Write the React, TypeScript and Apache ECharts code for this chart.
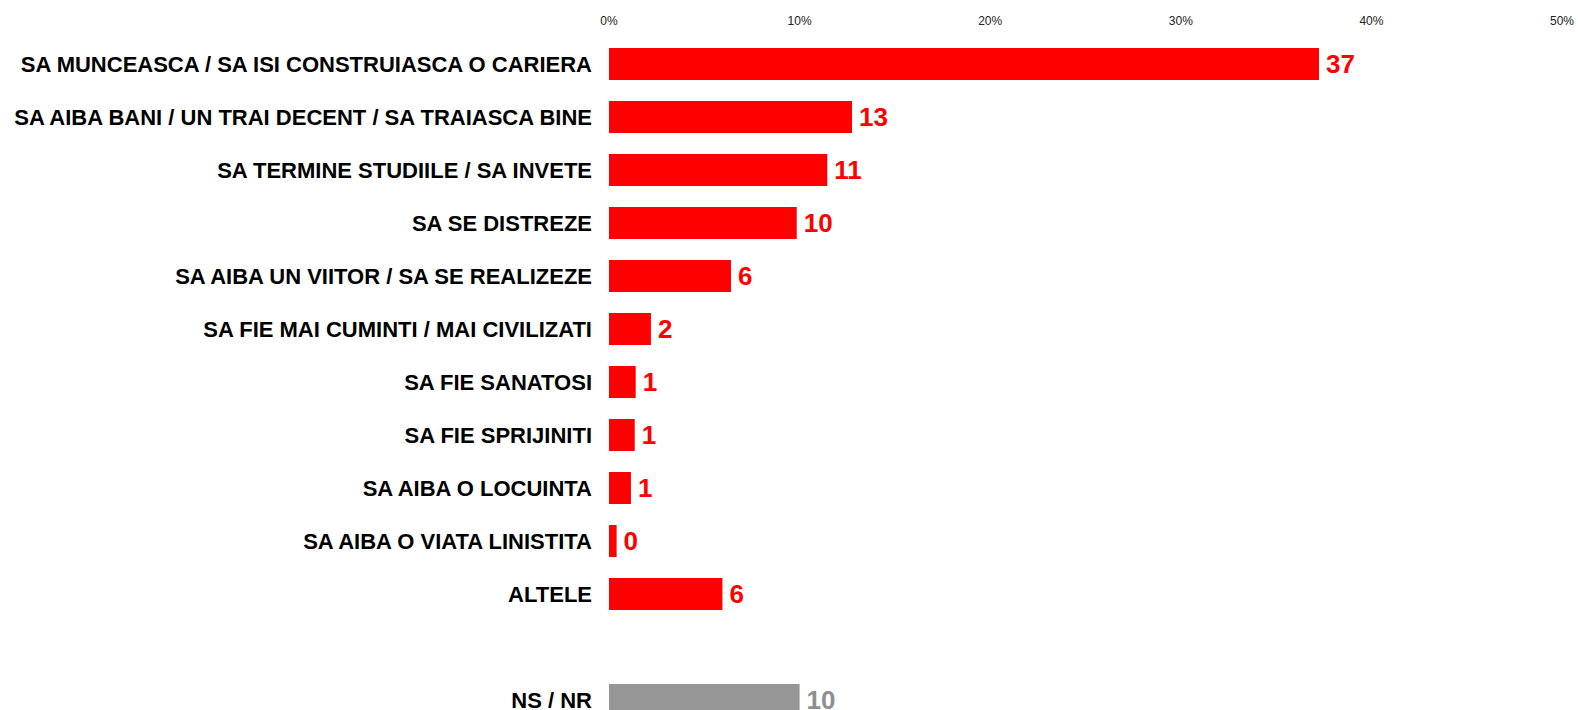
import React, { useEffect, useRef } from "react";
import * as echarts from "echarts";

const categories = [
  "SA MUNCEASCA / SA ISI CONSTRUIASCA O CARIERA",
  "SA AIBA BANI / UN TRAI DECENT / SA TRAIASCA BINE",
  "SA TERMINE STUDIILE / SA INVETE",
  "SA SE DISTREZE",
  "SA AIBA UN VIITOR / SA SE REALIZEZE",
  "SA FIE MAI CUMINTI / MAI CIVILIZATI",
  "SA FIE SANATOSI",
  "SA FIE SPRIJINITI",
  "SA AIBA O LOCUINTA",
  "SA AIBA O VIATA LINISTITA",
  "ALTELE",
  "",
  "NS / NR",
];

const values: (number | null)[] = [37.25, 12.75, 11.45, 9.85, 6.4, 2.2, 1.4, 1.35, 1.15, 0.4, 5.95, null, 10.0];
const greyIndex = [12];
const xTicks = { min: 0, max: 50, interval: 10 };

const RED = "#ff0000";
const GREY = "#969696";
const FONT = "Arial, 'Liberation Sans', sans-serif";

export default function App() {
  const ref = useRef<HTMLDivElement>(null);
  useEffect(() => {
    document.body.style.margin = "0";
    if (!ref.current) return;
    const chart = echarts.init(ref.current, undefined, { renderer: "svg" });
    const data = values.map((v, i) => {
      if (v === null) return { value: "-" as any };
      const grey = greyIndex.includes(i);
      return {
        value: v,
        itemStyle: { color: grey ? GREY : RED },
        label: { color: grey ? "#8f8f8f" : RED },
      };
    });
    chart.setOption({
      animation: false,
      grid: { left: 609, right: 16, top: 37.5, height: 689, containLabel: false },
      xAxis: {
        type: "value",
        position: "top",
        min: xTicks.min,
        max: xTicks.max,
        interval: xTicks.interval,
        axisLine: { show: false },
        axisTick: { show: false },
        splitLine: { show: false },
        axisLabel: {
          formatter: "{value}%",
          fontSize: 12,
          color: "#222",
          fontFamily: FONT,
          margin: 11,
        },
      },
      yAxis: {
        type: "category",
        inverse: true,
        data: categories,
        axisLine: { show: false },
        axisTick: { show: false },
        splitLine: { show: false },
        axisLabel: {
          fontSize: 22,
          fontWeight: "bold",
          color: "#000",
          fontFamily: FONT,
          margin: 17,
        },
      },
      series: [
        {
          type: "bar",
          data,
          barWidth: 32,
          label: {
            show: true,
            position: "right",
            distance: 7,
            fontSize: 26,
            fontWeight: "bold",
            fontFamily: FONT,
            formatter: (p: any) => String(Math.round(p.value)),
          },
        },
      ],
    });
    return () => chart.dispose();
  }, []);
  return (
    <div style={{ width: 1578, height: 710, overflow: "hidden" }}>
      <div ref={ref} style={{ width: 1578, height: 740 }} />
    </div>
  );
}
